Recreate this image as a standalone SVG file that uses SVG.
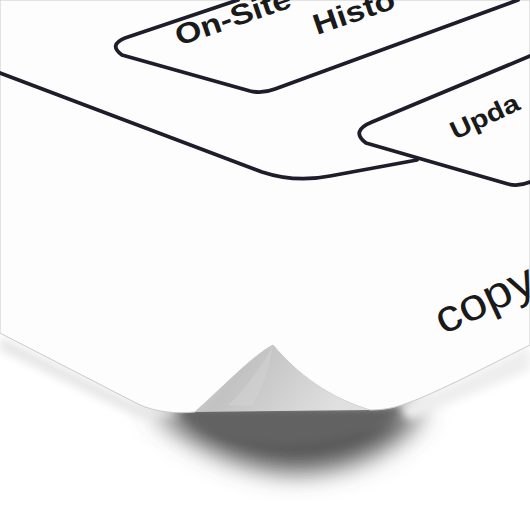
<svg xmlns="http://www.w3.org/2000/svg" width="530" height="530" viewBox="0 0 530 530">
<defs>
<style>
.ln{fill:none;stroke:#1d1d2b;stroke-width:3.8;stroke-linejoin:round;stroke-linecap:round}
.tx{font-family:"Liberation Sans",Arial,sans-serif;fill:#1a1a1a}
</style>
<filter id="blur" x="-50%" y="-50%" width="200%" height="200%"><feGaussianBlur stdDeviation="13"/></filter>
<filter id="blur2" x="-50%" y="-50%" width="200%" height="200%"><feGaussianBlur stdDeviation="4"/></filter>
<linearGradient id="curl" x1="0" y1="0" x2="1" y2="0.3">
<stop offset="0" stop-color="#d4d4d4"/>
<stop offset="0.35" stop-color="#c2c2c2"/>
<stop offset="0.6" stop-color="#cdcdcd"/>
<stop offset="1" stop-color="#e0e0e0"/>
</linearGradient>
</defs>
<rect width="530" height="530" fill="#ffffff"/>
<g id="shadow">
<path d="M150,408 L425,408 C405,445 355,470 300,472 C245,472 190,445 150,408 Z" fill="#555555" filter="url(#blur)"/>
<path d="M170,408 L405,408 C385,428 345,445 290,447 C235,447 195,430 170,408 Z" fill="#626262" filter="url(#blur2)"/>
<path d="M0,336 L140,405 L185,414 L140,418 L0,350 Z" fill="#e6e6e6" filter="url(#blur2)"/>
<path d="M400,408 L530,346 L530,370 L410,420 Z" fill="#eeeeee" filter="url(#blur2)"/>
</g>
<g id="paper">
<path d="M0,0 L530,0 L530,345 C480,370 430,396 402,405 C390,409 380,410 370,410 C320,395 290,365 273,345 C252,356 222,388 195,412 C175,414 155,412 138,404 L0,333 Z" fill="#fdfdfd" stroke="#c9c9c9" stroke-width="1"/>
<path d="M273,345 C252,356 222,388 195,412 L370,410 C320,395 290,365 273,345 Z" fill="url(#curl)"/>
<path d="M273,345 C264,362 250,385 228,405 L252,406 C263,388 270,366 273,345 Z" fill="#d8d8d8" opacity="0.4"/>
</g>
<g id="connectors">
<path class="ln" d="M0,73 L262,172 Q295,183 330,176 L417,160"/>
</g>
<g id="node-onsite">
<path class="ln" d="M238,0 L125,38 Q108,45 122,55 L250,91 Q262,94 275,89 L518,0"/>
<text class="tx" font-weight="bold" font-size="32" transform="translate(179,46) rotate(-19) scale(1.06,0.9)">On-Site</text>
<text class="tx" font-weight="bold" font-size="32" transform="translate(317,35) rotate(-19) scale(1.06,0.9)">Histo</text>
</g>
<g id="node-update">
<path class="ln" d="M530,56 L372,122 Q350,131 366,143 L508,184 Q518,187 530,182"/>
<text class="tx" font-weight="bold" font-size="28" transform="translate(455,140) rotate(-25) scale(1.05,0.9)">Upda</text>
</g>
<text class="tx" font-size="50" transform="translate(443,335) rotate(-25) scale(1,0.9)">copy</text>
</svg>
